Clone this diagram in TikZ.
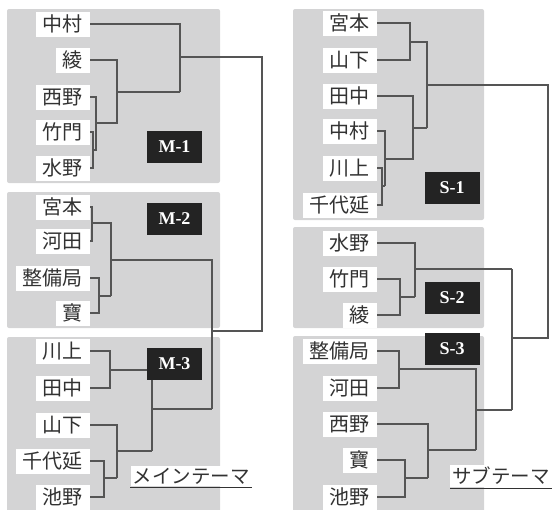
\documentclass[tikz,border=0pt]{standalone}
\usepackage{fontspec}
\setmainfont{Liberation Serif}
\newfontfamily\jp{Noto Sans CJK JP}
\definecolor{panel}{RGB}{212,212,213}
\definecolor{ink}{RGB}{85,85,85}
\definecolor{txt}{RGB}{50,50,50}
\definecolor{tagbg}{RGB}{35,35,35}
\tikzset{
  panelbox/.style={fill=panel, draw=none, rounded corners=2pt},
  namebox/.style={fill=white, draw=none, anchor=east, inner xsep=7pt, inner ysep=0pt,
    minimum height=25pt, text=txt, font=\jp\fontsize{20}{20}\selectfont},
  tagbox/.style={fill=tagbg, draw=none, minimum width=55pt, minimum height=32pt, inner sep=0pt,
    text=white, font=\fontsize{18}{18}\selectfont\bfseries},
  themebox/.style={fill=white, draw=none, inner xsep=2pt, inner ysep=2pt,
    text=txt, font=\jp\fontsize{19.5}{19.5}\selectfont},
  link/.style={draw=ink, line width=1.1pt},
}
\begin{document}
\begin{tikzpicture}[x=1pt,y=-1pt]
\useasboundingbox (0,0) rectangle (553,509);
% panels
\fill[panelbox] (7,9) rectangle (220,183);
\fill[panelbox] (7,192) rectangle (220,328);
\fill[panelbox] (7,337) rectangle (220,515);
\fill[panelbox] (293,9) rectangle (484,220);
\fill[panelbox] (293,227) rectangle (484,328);
\fill[panelbox] (293,336) rectangle (484,515);

% ---------------- left: M-1
\node[namebox] (m1a) at (90,24) {中村};
\node[namebox] (m1b) at (90,60) {綾};
\node[namebox] (m1c) at (90,97) {西野};
\node[namebox] (m1d) at (90,132) {竹門};
\node[namebox] (m1e) at (90,168) {水野};
\node[tagbox] (m1t) at (174.5,147) {M-1};
\coordinate (k1) at (93,150);
\coordinate (k2) at (96,150);
\coordinate (k3) at (96,123);
\coordinate (k4) at (117,123);
\coordinate (k5) at (117,92);
\coordinate (k6) at (180,92);
\coordinate (k7) at (180,57);
\coordinate (r1) at (262,57);
\coordinate (r2) at (262,331);
\coordinate (r3) at (212,331);
\draw[link] (m1d.east) -| (k1) |- (m1e.east);
\draw[link] (m1c.east) -| (k2) -- (k1);
\draw[link] (m1b.east) -| (k4) -- (k3);
\draw[link] (k5) -- (k6);
\draw[link] (m1a.east) -| (k6);
\draw[link] (k7) -- (r1) -- (r2) -- (r3);

% ---------------- left: M-2
\node[namebox] (m2a) at (90,207) {宮本};
\node[namebox] (m2b) at (90,241) {河田};
\node[namebox] (m2c) at (90,278) {整備局};
\node[namebox] (m2d) at (90,313) {寶};
\node[tagbox] (m2t) at (174.5,219) {M-2};
\coordinate (q1) at (92,223);
\coordinate (q2) at (111,223);
\coordinate (q3) at (99,296);
\coordinate (q4) at (111,296);
\coordinate (q5) at (111,260);
\coordinate (q6) at (212,260);
\coordinate (q7) at (212,409);
\draw[link] (m2a.east) -| (q1) |- (m2b.east);
\draw[link] (q1) -- (q2) -- (q4);
\draw[link] (m2c.east) -| (q3) |- (m2d.east);
\draw[link] (q3) -- (q4);
\draw[link] (q5) -- (q6) -- (q7);

% ---------------- left: M-3
\node[namebox] (m3a) at (90,351) {川上};
\node[namebox] (m3b) at (90,388) {田中};
\node[namebox] (m3c) at (90,425) {山下};
\node[namebox] (m3d) at (90,461) {千代延};
\node[namebox] (m3e) at (90,497) {池野};
\node[tagbox] (m3t) at (174.5,364) {M-3};
\coordinate (p1) at (110,370);
\coordinate (p2) at (152,451);
\coordinate (p4) at (152,409);
\coordinate (p5) at (117,478);
\coordinate (p6) at (117,451);
\coordinate (p7) at (104,478);
\draw[link] (m3a.east) -| (p1) |- (m3b.east);
\draw[link] (p1) -- (p1 -| m3t.west);
\draw[link] (m3t.south -| p2) -- (p2);
\draw[link] (p4) -- (q7);
\draw[link] (m3c.east) -| (p5);
\draw[link] (p6) -- (p2);
\draw[link] (m3d.east) -| (p7) |- (m3e.east);
\draw[link] (p7) -- (p5);
\node[themebox] (mt) at (191,476) {メインテーマ};
\draw[draw=txt, line width=0.9pt] ([yshift=-1pt]mt.south west) -- ([yshift=-1pt]mt.south east);

% ---------------- right: S-1
\node[namebox] (s1a) at (377,23) {宮本};
\node[namebox] (s1b) at (377,60) {山下};
\node[namebox] (s1c) at (377,96) {田中};
\node[namebox] (s1d) at (377,131) {中村};
\node[namebox] (s1e) at (377,168) {川上};
\node[namebox] (s1f) at (377,205) {千代延};
\node[tagbox] (s1t) at (452,188) {S-1};
\coordinate (t1) at (410,42);
\coordinate (t2) at (427,42);
\coordinate (t3) at (413,159);
\coordinate (t4) at (385,159);
\coordinate (t5) at (413,128);
\coordinate (t6) at (427,128);
\coordinate (t7) at (385,186);
\coordinate (t8) at (382,186);
\coordinate (t9) at (427,85);
\coordinate (u1) at (548,85);
\coordinate (u2) at (548,338);
\coordinate (u3) at (512,338);
\coordinate (u4) at (512,269);
\coordinate (u5) at (512,410);
\draw[link] (s1a.east) -| (t1) |- (s1b.east);
\draw[link] (t1) -- (t2) -- (t6);
\draw[link] (s1c.east) -| (t3) -- (t4);
\draw[link] (t5) -- (t6);
\draw[link] (s1d.east) -| (t7);
\draw[link] (s1e.east) -| (t8) |- (s1f.east);
\draw[link] (t8) -- (t7);
\draw[link] (t9) -- (u1) -- (u2) -- (u3);
\draw[link] (u4) -- (u5);

% ---------------- right: S-2
\node[namebox] (s2a) at (377,243) {水野};
\node[namebox] (s2b) at (377,279) {竹門};
\node[namebox] (s2c) at (377,315) {綾};
\node[tagbox] (s2t) at (452,298) {S-2};
\coordinate (v1) at (415,297);
\coordinate (v2) at (400,297);
\coordinate (v3) at (415,269);
\draw[link] (s2a.east) -| (v1);
\draw[link] (s2b.east) -| (v2) |- (s2c.east);
\draw[link] (v2) -- (v1);
\draw[link] (v3) -- (u4);

% ---------------- right: S-3
\node[namebox] (s3a) at (377,351) {整備局};
\node[namebox] (s3b) at (377,388) {河田};
\node[namebox] (s3c) at (377,424) {西野};
\node[namebox] (s3d) at (377,460) {寶};
\node[namebox] (s3e) at (377,497) {池野};
\node[tagbox] (s3t) at (452,349) {S-3};
\coordinate (w1) at (399,369);
\coordinate (w2) at (476,369);
\coordinate (w3) at (476,450);
\coordinate (w4) at (476,410);
\coordinate (w5) at (428,478);
\coordinate (w6) at (428,450);
\coordinate (w7) at (405,478);
\draw[link] (s3a.east) -| (w1) |- (s3b.east);
\draw[link] (w1) -- (w2) -- (w3);
\draw[link] (w4) -- (u5);
\draw[link] (s3c.east) -| (w5);
\draw[link] (w6) -- (w3);
\draw[link] (s3d.east) -| (w7) |- (s3e.east);
\draw[link] (w7) -- (w5);
\node[themebox] (st) at (501,476) {サブテーマ};
\draw[draw=txt, line width=0.9pt] ([yshift=-1pt]st.south west) -- ([yshift=-1pt]st.south east);
\end{tikzpicture}
\end{document}
